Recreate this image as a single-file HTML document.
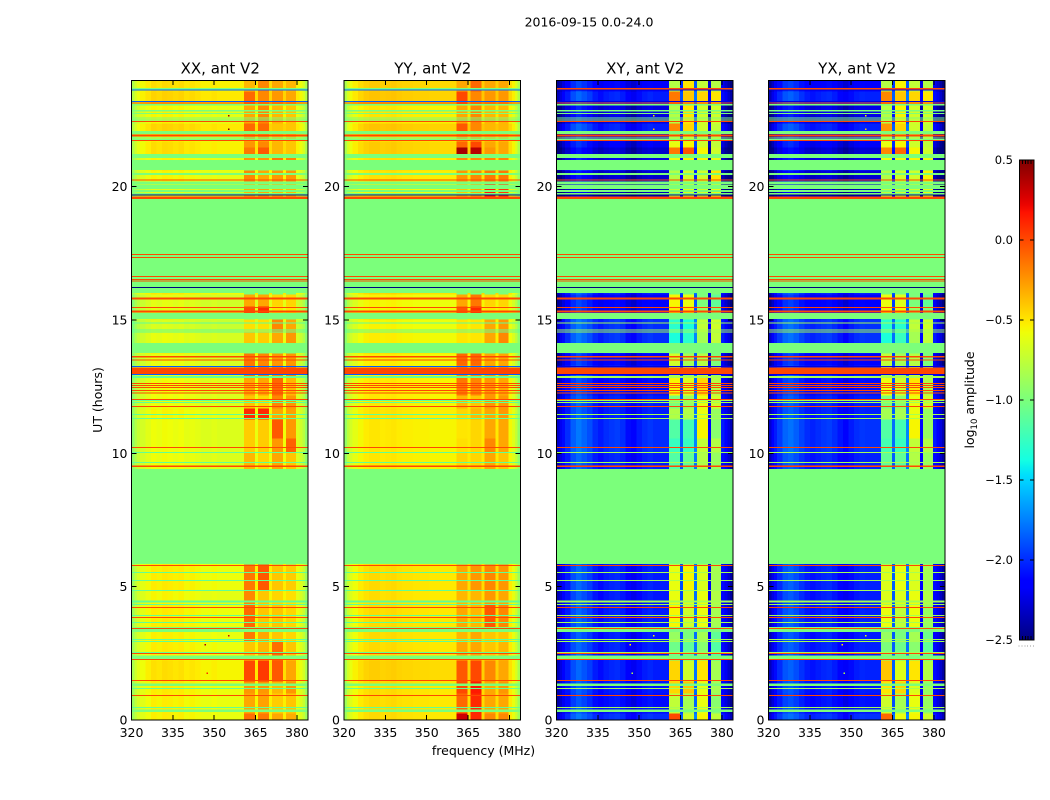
<!DOCTYPE html>
<html lang="en">
<head>
<meta charset="utf-8">
<title>2016-09-15 0.0-24.0</title>
<style>
  html, body { margin: 0; padding: 0; background: #fff; }
  svg { display: block; }
  text { font-family: "DejaVu Sans", "Liberation Sans", sans-serif; fill: #000; }
</style>
</head>
<body>
<svg id="chart" xmlns="http://www.w3.org/2000/svg" width="1050" height="800" viewBox="0 0 1050 800">
  <text x="589" y="26.5" font-size="12.5" text-anchor="middle">2016-09-15 0.0-24.0</text>
  <text x="102" y="400" font-size="12.5" text-anchor="middle" transform="rotate(-90 102 400)">UT (hours)</text>
  <text x="483.5" y="755" font-size="12.5" text-anchor="middle">frequency (MHz)</text>
  <text x="974" y="400" font-size="12.5" text-anchor="middle" transform="rotate(-90 974 400)">log<tspan font-size="8.5" dy="3">10</tspan><tspan dy="-3"> amplitude</tspan></text>
</svg>
<script>
// ---- Axis tick labels ----
const xTickValues = [320, 335, 350, 365, 380];
const yTickValues = [0, 5, 10, 15, 20];
const colorbarTickValues = [0.5, 0.0, -0.5, -1.0, -1.5, -2.0, -2.5];
const panelTitles = ['XX, ant V2', 'YY, ant V2', 'XY, ant V2', 'YX, ant V2'];

// ---- Frequency channel groups (MHz) ----
const freqEdges = [320,321,322,323,325,327,329,331,333,335,337,339,341,343,345,347,349,351,353,355,357,359,360.8,364.8,365.9,369.9,371,374.9,376,379.6,381,382,383,384];

// ---- Time epochs (UT hours) ----
const epochEdges = [0,0.263,1.013,1.463,2.25,2.963,3.488,4.35,4.875,5.85,9.413,10.05,10.575,11.288,11.7,12.188,12.9,13.313,13.763,14.138,14.588,15.038,15.263,15.525,15.975,19.613,20.213,20.625,21,21.225,21.488,21.713,22.088,22.388,23.1,23.588,24];

// ---- Mean spectra per polarisation (log10 amplitude); null = ----
const xxSpectrum = [-0.85,-0.72,-0.65,-0.6,-0.55,-0.5,-0.52,-0.49,-0.5,-0.52,-0.5,-0.54,-0.52,-0.54,-0.57,-0.57,-0.55,-0.57,-0.57,-0.57,-0.57,-0.57,null,-0.52,null,-0.5,null,-0.5,null,-0.57,-0.62,-0.7,-0.85];
const yySpectrum = [-0.85,-0.7,-0.62,-0.56,-0.5,-0.46,-0.44,-0.44,-0.46,-0.45,-0.44,-0.46,-0.47,-0.47,-0.48,-0.48,-0.48,-0.49,-0.49,-0.49,-0.49,-0.49,null,-0.45,null,-0.45,null,-0.45,null,-0.5,-0.58,-0.68,-0.85];
const xySpectrum = [-2.35,-2.25,-2.15,-2.05,-1.9,-1.82,-1.88,-1.95,-2.05,-2.1,-2.05,-2.02,-2.0,-2.05,-2.15,-2.2,-2.1,-2.05,-2.02,-2.05,-2.05,-2.05,null,-1.9,null,-1.78,null,-2.2,null,-2.1,-2.2,-2.3,-2.4];
const yxSpectrum = [-2.35,-2.22,-2.1,-2.0,-1.88,-1.84,-1.9,-1.98,-2.05,-2.08,-2.05,-2.02,-2.0,-2.05,-2.12,-2.18,-2.1,-2.05,-2.02,-2.03,-2.03,-2.03,null,-1.85,null,-1.78,null,-2.15,null,-2.1,-2.2,-2.3,-2.4];

// ---- Per-epoch offset of the low-band spectrum ----
const xxLowOffsets = [-0.03,-0.03,-0.02,0.02,-0.02,-0.03,-0.02,-0.05,-0.02,0,-0.08,-0.08,-0.08,-0.05,-0.08,-0.08,-0.1,-0.1,0,-0.1,-0.15,0,-0.12,-0.12,0,-0.12,-0.05,0,-0.05,0.03,0.03,-0.05,0.06,-0.05,0.06,0.03];
const yyLowOffsets = [-0.02,-0.02,-0.02,0.02,-0.02,-0.02,-0.02,-0.03,-0.02,0,-0.06,-0.06,-0.06,-0.04,-0.06,-0.06,-0.08,-0.08,0,-0.08,-0.1,0,-0.1,-0.1,0,-0.1,-0.04,0,-0.04,0.03,0.03,-0.05,0.05,-0.05,0.05,0.03];
const xyLowOffsets = [0.05,-0.05,-0.02,0,0,-0.02,0,-0.02,0,0,0,0.05,0.05,0,0,-0.05,0,-0.1,0,0.05,0.05,0,-0.1,-0.1,0,-0.3,-0.25,0,-0.2,-0.25,-0.15,-0.15,0,-0.2,0,-0.1];
const yxLowOffsets = [0.05,-0.05,-0.02,0,0,-0.02,0,-0.02,0,0,0,0.05,0.05,0,0,-0.05,0,-0.1,0,0.05,0.05,0,-0.1,-0.1,0,-0.3,-0.25,0,-0.2,-0.25,-0.15,-0.15,0,-0.2,0,-0.1];

// ---- Per-epoch levels of the four high-band blocks ----
const xxBlocks = [[-0.12,-0.15,-0.3,-0.32],[-0.3,-0.28,-0.42,-0.4],[-0.25,-0.25,-0.35,-0.25],[0,0.05,-0.05,-0.3],[-0.4,-0.35,-0.12,-0.4],[-0.15,-0.3,-0.4,-0.45],[-0.1,-0.4,-0.4,-0.45],[-0.2,-0.4,-0.45,-0.48],[-0.15,-0.05,-0.4,-0.42],[-1,-1,-1,-1],[-0.35,-0.45,-0.3,-0.4],[-0.42,-0.42,-0.25,-0.08],[-0.42,-0.42,-0.05,-0.25],[0.1,0.1,-0.3,-0.28],[-0.4,-0.45,-0.2,-0.25],[-0.3,-0.3,-0.1,-0.35],[-0.15,-0.15,-0.2,-0.2],[-0.15,-0.2,-0.25,-0.25],[-1,-1,-1,-1],[-0.4,-0.42,-0.3,-0.25],[-0.48,-0.48,-0.2,-0.3],[-1,-1,-1,-1],[0,0.1,-0.5,-0.5],[-0.3,-0.3,-0.45,-0.45],[-1,-1,-1,-1],[-0.35,-0.3,-0.35,-0.35],[-0.2,-0.3,-0.25,-0.25],[-1,-1,-1,-1],[-0.25,-0.25,-0.15,-0.2],[-0.15,-0.05,-0.35,-0.4],[-0.25,-0.2,-0.35,-0.4],[-0.3,-0.3,-0.4,-0.4],[-0.1,-0.1,-0.4,-0.4],[-0.3,-0.2,-0.35,-0.4],[-0.1,-0.2,-0.25,-0.3],[-0.35,-0.2,-0.3,-0.35]];
const yyBlocks = [[0.3,0.1,-0.2,-0.2],[-0.1,0.1,-0.3,-0.3],[0,0.15,-0.3,-0.25],[-0.05,0,-0.2,-0.3],[-0.3,-0.3,-0.4,-0.35],[-0.35,-0.3,-0.4,-0.4],[-0.3,-0.35,-0.05,-0.2],[-0.35,-0.35,-0.25,-0.3],[-0.3,-0.25,-0.2,-0.25],[-1,-1,-1,-1],[-0.45,-0.45,-0.3,-0.4],[-0.48,-0.45,-0.2,-0.3],[-0.5,-0.45,-0.3,-0.3],[-0.45,-0.35,-0.3,-0.25],[-0.35,-0.4,-0.25,-0.25],[-0.15,-0.2,-0.25,-0.3],[-0.2,-0.2,-0.25,-0.25],[-0.1,-0.1,-0.3,-0.3],[-1,-1,-1,-1],[-0.5,-0.5,-0.3,-0.2],[-0.5,-0.5,-0.3,-0.25],[-1,-1,-1,-1],[-0.05,0.1,-0.5,-0.5],[-0.3,-0.15,-0.45,-0.45],[-1,-1,-1,-1],[-0.4,-0.3,0.15,0.05],[-0.25,-0.2,-0.15,-0.15],[-1,-1,-1,-1],[-0.2,-0.2,-0.2,-0.2],[0.4,0.35,-0.25,-0.3],[-0.1,0,-0.3,-0.3],[-0.3,-0.3,-0.4,-0.4],[-0.05,-0.2,-0.35,-0.35],[-0.3,-0.2,-0.35,-0.35],[0,-0.2,-0.25,-0.25],[-0.3,-0.1,-0.3,-0.3]];
const xyBlocks = [[0,-0.7,-0.55,-0.75],[-0.75,-0.85,-0.6,-0.95],[-0.45,-0.4,-0.6,-0.85],[-0.45,-0.7,-0.5,-0.85],[-1.05,-1.1,-0.95,-1.15],[-0.9,-1,-0.85,-1.1],[-0.55,-0.7,-0.6,-0.85],[-0.6,-0.65,-0.6,-0.8],[-0.6,-0.55,-0.65,-0.85],[-1,-1,-1,-1],[-1.15,-1.1,-0.8,-0.9],[-1.25,-1.25,-0.75,-0.8],[-1.15,-1.2,-0.55,-0.95],[-0.8,-0.8,-0.6,-0.9],[-1,-0.9,-0.6,-0.7],[-0.55,-0.65,-0.45,-0.8],[-0.8,-0.9,-0.7,-0.9],[-0.7,-0.85,-0.8,-1],[-1,-1,-1,-1],[-1.35,-1.3,-0.85,-0.75],[-1.3,-1.35,-0.75,-0.7],[-1,-1,-1,-1],[-0.5,-0.5,-0.9,-1],[-0.55,-0.6,-1,-1.1],[-1,-1,-1,-1],[-0.75,-0.65,-0.7,-0.6],[-0.8,-0.7,-0.7,-0.5],[-1,-1,-1,-1],[-0.6,-0.55,-0.55,-0.6],[-0.15,-0.05,-0.55,-0.7],[-0.6,-0.55,-0.7,-0.75],[-0.8,-0.7,-0.8,-0.8],[-0.2,-0.45,-0.7,-0.75],[-0.8,-0.5,-0.7,-0.7],[-0.15,-0.4,-0.45,-0.5],[-0.8,-0.5,-0.75,-0.8]];
const yxBlocks = [[-0.1,-0.6,-0.55,-0.7],[-0.7,-0.85,-0.6,-0.9],[-0.5,-0.45,-0.65,-0.9],[-0.4,-0.65,-0.5,-0.8],[-1,-1.05,-0.95,-1.1],[-0.9,-1,-0.85,-1.05],[-0.6,-0.75,-0.6,-0.9],[-0.65,-0.65,-0.6,-0.8],[-0.65,-0.6,-0.65,-0.85],[-1,-1,-1,-1],[-1.1,-1.1,-0.8,-0.9],[-1.2,-1.25,-0.75,-0.8],[-1.15,-1.2,-0.55,-0.9],[-0.85,-0.85,-0.6,-0.9],[-1,-0.95,-0.6,-0.7],[-0.6,-0.7,-0.5,-0.8],[-0.85,-0.9,-0.7,-0.9],[-0.75,-0.85,-0.8,-1],[-1,-1,-1,-1],[-1.35,-1.25,-0.85,-0.75],[-1.3,-1.3,-0.75,-0.7],[-1,-1,-1,-1],[-0.55,-0.55,-0.9,-1],[-0.6,-0.65,-1,-1.1],[-1,-1,-1,-1],[-0.75,-0.7,-0.7,-0.6],[-0.8,-0.7,-0.7,-0.55],[-1,-1,-1,-1],[-0.6,-0.6,-0.55,-0.6],[-0.2,-0.1,-0.55,-0.7],[-0.6,-0.55,-0.7,-0.75],[-0.8,-0.7,-0.8,-0.8],[-0.25,-0.45,-0.7,-0.75],[-0.8,-0.55,-0.7,-0.7],[-0.2,-0.4,-0.45,-0.5],[-0.8,-0.55,-0.75,-0.8]];

// ---- Constant-valued (flagged) rows: centre hour, thickness in hours, kind ----
const flagHours = [0.349,0.476,0.926,1.189,1.331,1.489,2.276,2.344,2.486,2.531,2.936,3.026,3.394,3.439,3.649,3.851,3.911,4.226,4.339,4.436,4.849,5.224,5.524,5.801,7.631,9.514,9.664,10.031,10.226,11.314,11.464,11.764,11.899,11.974,12.026,12.263,12.364,12.461,12.536,12.626,12.863,12.964,13.099,13.249,13.5,13.624,13.95,14.55,14.625,14.888,15.15,15.319,15.469,15.799,16.125,16.226,17.897,16.463,16.526,16.631,17.351,17.464,19.584,19.688,19.733,19.838,19.988,20.145,20.25,20.475,20.813,21.15,21.731,21.769,21.825,21.926,22.031,22.44,22.5,22.575,22.744,22.849,23.063,23.138,23.201,23.625,23.681];
const flagThickness = [0.094,0.0375,0.0375,0.0375,0.094,0.0375,0.0375,0.131,0.0375,0.0375,0.0375,0.0375,0.1875,0.0375,0.0375,0.0375,0.0375,0.0375,0.0375,0.075,0.0375,0.0375,0.0375,0.0375,3.5625,0.05,0.0375,0.0375,0.0375,0.0375,0.0375,0.0375,0.0375,0.0375,0.0375,0.0375,0.0375,0.0375,0.0375,0.0375,0.075,0.0375,0.244,0.0375,0.0375,0.056,0.375,0.0375,0.0375,0.0375,0.225,0.075,0.0375,0.075,0.225,0.0375,3.32,0.0375,0.0375,0.0375,0.0375,0.0375,0.094,0.0375,0.056,0.075,0.15,0.1125,0.0375,0.075,0.375,0.15,0.05,0.0375,0.0375,0.075,0.1125,0.0375,0.0375,0.056,0.0375,0.056,0.056,0.045,0.0375,0.0375,0.056];
const flagKinds = ['F','L','R','L','F','R','R','F','R','L','L','L','F','R','L','R','L','R','L','L','L','L','L','R','F','R','L','L','R','L','L','R','L','L','R','R','R','R','R','R','L','B','R','B','R','R','F','L','L','L','F','R','R','R','F','N','F','R','R','R','R','R','R','N','F','F','F','F','R','F','F','F','R','F','L','R','F','R','L','F','F','F','F','R','B','B','C'];
const kindParallelValues = { F: -1.0, L: -1.1, R: 0.0, B: -1.85, N: -2.5, C: -1.0 };
const kindCrossValues = { F: -1.0, L: -0.85, R: 0.0, B: -2.25, N: -2.5, C: 0.0 };

// ---- Isolated bright pixels ----
const spotFreqs = [355, 355, 346.4, 355, 347.2];
const spotHours = [22.66, 22.16, 2.84, 3.16, 1.76];
const spotValues = [0.4, 0.5, 0.4, 0.3, 0.1];

// ---- Colour range ----
const colorMin = -2.5;
const colorMax = 0.5;

const SVGNS = 'http://www.w3.org/2000/svg';
const svg = document.getElementById('chart');

function interp(knots, t) {
  for (let i = 1; i < knots.length; i++) {
    if (t <= knots[i][0]) {
      const a = knots[i - 1], b = knots[i];
      return a[1] + (b[1] - a[1]) * (t - a[0]) / (b[0] - a[0]);
    }
  }
  return knots[knots.length - 1][1];
}
const jetR = [[0,0],[0.35,0],[0.66,1],[0.89,1],[1,0.5]];
const jetG = [[0,0],[0.125,0],[0.375,1],[0.64,1],[0.91,0],[1,0]];
const jetB = [[0,0.5],[0.11,1],[0.34,1],[0.65,0],[1,0]];
function jetFromT(t) {
  t = Math.max(0, Math.min(1, t));
  return 'rgb(' + Math.round(255 * interp(jetR, t)) + ',' + Math.round(255 * interp(jetG, t)) + ',' + Math.round(255 * interp(jetB, t)) + ')';
}
function colorOf(v) { return jetFromT((v - colorMin) / (colorMax - colorMin)); }

function makeEl(tag, parent, attrs) {
  const el = document.createElementNS(SVGNS, tag);
  for (const k in attrs) el.setAttribute(k, attrs[k]);
  parent.appendChild(el);
  return el;
}

// ---- Panels ----
const plotTop = 80, plotBottom = 720;
const panels = [
  { key: 'xx', left: 131.5, right: 308,   spectrum: xxSpectrum, low: xxLowOffsets, blocks: xxBlocks, kinds: kindParallelValues, spots: true },
  { key: 'yy', left: 344,   right: 520.5, spectrum: yySpectrum, low: yyLowOffsets, blocks: yyBlocks, kinds: kindParallelValues, spots: false },
  { key: 'xy', left: 556.5, right: 733,   spectrum: xySpectrum, low: xyLowOffsets, blocks: xyBlocks, kinds: kindCrossValues, spots: true },
  { key: 'yx', left: 768.5, right: 945,   spectrum: yxSpectrum, low: yxLowOffsets, blocks: yxBlocks, kinds: kindCrossValues, spots: true }
];

function yScale(hour) { return plotBottom - (hour / 24) * (plotBottom - plotTop); }

panels.forEach(function (p, pi) {
  function xScale(f) { return p.left + (f - 320) / 64 * (p.right - p.left); }

  const g = makeEl('g', svg, { 'shape-rendering': 'crispEdges' });
  
  

  // data epochs
  for (let e = 0; e < epochEdges.length - 1; e++) {
    let blockNo = 0;
    for (let c = 0; c < freqEdges.length - 1; c++) {
      let v;
      if (p.spectrum[c] === null) {
        v = p.blocks[e][blockNo];
        blockNo++;
      } else {
        v = p.spectrum[c] + p.low[e];
      }
      const cell = makeEl('rect', g, {
        x: xScale(freqEdges[c]),
        y: yScale(epochEdges[e + 1]),
        width: xScale(freqEdges[c + 1]) - xScale(freqEdges[c]) + (c === freqEdges.length - 2 ? 0 : 0.5),
        height: yScale(epochEdges[e]) - yScale(epochEdges[e + 1]) + (e === 0 ? 0 : 0.5),
        fill: colorOf(v)
      });
      
      
    }
  }

  // flagged rows: widest first so thin lines stay visible
  const order = flagHours.map(function (_, i) { return i; }).sort(function (a, b) { return flagThickness[b] - flagThickness[a]; });
  order.forEach(function (i) {
    const row = makeEl('rect', g, {
      x: p.left,
      y: yScale(flagHours[i] + flagThickness[i] / 2),
      width: p.right - p.left,
      height: yScale(flagHours[i] - flagThickness[i] / 2) - yScale(flagHours[i] + flagThickness[i] / 2),
      fill: colorOf(p.kinds[flagKinds[i]])
    });
    
    
  });

  // isolated pixels
  if (p.spots) {
    spotFreqs.forEach(function (f, i) {
      const spot = makeEl('rect', g, {
        x: xScale(f), y: yScale(spotHours[i]) - 0.5, width: 1.5, height: 1.5,
        fill: colorOf(p.key === 'xx' ? spotValues[i] : spotValues[i] - 0.9)
      });
      
      
    });
  }

  // frame
  const frame = makeEl('rect', g, {
    x: p.left, y: plotTop + 0.5, width: p.right - p.left, height: plotBottom - plotTop - 0.5,
    fill: 'none', stroke: '#000', 'stroke-width': 1
  });
  
  

  // x ticks
  xTickValues.forEach(function (f) {
    const x = xScale(f);
    const t1 = makeEl('line', g, { x1: x, x2: x, y1: plotBottom, y2: plotBottom - 5, stroke: '#000' });
    
    
    const t2 = makeEl('line', g, { x1: x, x2: x, y1: plotTop, y2: plotTop + 5, stroke: '#000' });
    
    
    const label = makeEl('text', svg, { x: x, y: plotBottom + 17, 'font-size': 12.5, 'text-anchor': 'middle' });
    label.textContent = String(f);
    
    
  });

  // y ticks
  yTickValues.forEach(function (h) {
    const y = yScale(h);
    const t1 = makeEl('line', g, { x1: p.left, x2: p.left + 5, y1: y, y2: y, stroke: '#000' });
    
    
    const t2 = makeEl('line', g, { x1: p.right, x2: p.right - 5, y1: y, y2: y, stroke: '#000' });
    
    
    const label = makeEl('text', svg, { x: p.left - 4, y: y + 4.5, 'font-size': 12.5, 'text-anchor': 'end' });
    label.textContent = String(h);
    
    
  });

  // title
  const title = makeEl('text', svg, { x: (p.left + p.right) / 2 + 0.5, y: 73.5, 'font-size': 15, 'text-anchor': 'middle' });
  title.textContent = panelTitles[pi];
  
  
});

// ---- Colorbar ----
const cbLeft = 1019.5, cbRight = 1034, cbTop = 160, cbBottom = 640;
function cbScale(v) { return cbBottom - (v - colorMin) / (colorMax - colorMin) * (cbBottom - cbTop); }

const defs = makeEl('defs', svg, {});
const grad = makeEl('linearGradient', defs, { id: 'jet-gradient', x1: 0, y1: 1, x2: 0, y2: 0 });
for (let i = 0; i <= 64; i++) {
  makeEl('stop', grad, { offset: i / 64, 'stop-color': jetFromT(i / 64) });
}
const cbGroup = makeEl('g', svg, { 'shape-rendering': 'crispEdges' });


const cbBar = makeEl('rect', cbGroup, { x: cbLeft, y: cbTop, width: cbRight - cbLeft, height: cbBottom - cbTop, fill: 'url(#jet-gradient)', stroke: '#000', 'stroke-width': 1 });



colorbarTickValues.forEach(function (v) {
  const y = cbScale(v);
  const a = makeEl('line', cbGroup, { x1: cbLeft, x2: cbLeft + 4, y1: y, y2: y, stroke: '#000' });
  
  
  const b = makeEl('line', cbGroup, { x1: cbRight, x2: cbRight - 4, y1: y, y2: y, stroke: '#000' });
  
  
  const label = makeEl('text', svg, { x: 1013, y: y + 4, 'font-size': 11.5, 'text-anchor': 'end' });
  label.textContent = v.toFixed(1).replace('-', '\u2212');
  
  
});

// small end ticks and the collapsed dotted labels under the bar
for (let i = 0; i < 6; i++) {
  const x = cbLeft + i * (cbRight - cbLeft) / 5;
  const top = makeEl('line', cbGroup, { x1: x, x2: x, y1: cbTop, y2: cbTop + 4, stroke: '#000' });
  
  
  const bottom = makeEl('line', cbGroup, { x1: x, x2: x, y1: cbBottom, y2: cbBottom - 4, stroke: '#000' });
  
  
  const dot = makeEl('rect', cbGroup, { x: x - 1, y: 645.5, width: 1, height: 1, fill: '#999' });
  
  
}
</script>
</body>
</html>
